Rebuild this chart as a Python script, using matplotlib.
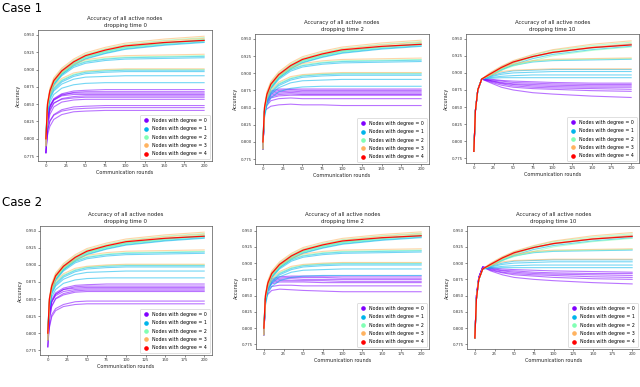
import matplotlib
matplotlib.use("Agg")
import matplotlib.pyplot as plt
from matplotlib.lines import Line2D

# ---------------- data ----------------
rounds = [0, 2, 5, 10, 20, 35, 50, 75, 100, 150, 200]
degrees = [0, 1, 2, 3, 4]
legend_labels = ["Nodes with degree = %d" % d for d in degrees]
panel_titles = ["Accuracy of all active nodes\ndropping time 0",
                "Accuracy of all active nodes\ndropping time 2",
                "Accuracy of all active nodes\ndropping time 10"]
case_labels = ["Case 1", "Case 2"]
yticks = [0.775, 0.800, 0.825, 0.850, 0.875, 0.900, 0.925, 0.950]
xticks = [0, 25, 50, 75, 100, 125, 150, 175, 200]

# connected nodes, dropping time 0 / 2
deg1_early = [
    [0.79, 0.846, 0.867, 0.882, 0.896, 0.909, 0.918, 0.926, 0.932, 0.938, 0.942],
    [0.80, 0.843, 0.864, 0.879, 0.893, 0.906, 0.915, 0.923, 0.929, 0.935, 0.939],
    [0.79, 0.844, 0.865, 0.880, 0.894, 0.907, 0.916, 0.924, 0.930, 0.936, 0.940],
    [0.80, 0.845, 0.865, 0.879, 0.893, 0.905, 0.911, 0.915, 0.917, 0.918, 0.919],
    [0.81, 0.842, 0.862, 0.877, 0.891, 0.903, 0.909, 0.913, 0.915, 0.916, 0.917],
    [0.80, 0.842, 0.861, 0.873, 0.884, 0.892, 0.896, 0.898, 0.899, 0.899, 0.899],
    [0.80, 0.840, 0.859, 0.871, 0.882, 0.890, 0.894, 0.896, 0.897, 0.897, 0.897],
    [0.80, 0.838, 0.857, 0.869, 0.879, 0.886, 0.889, 0.890, 0.891, 0.891, 0.891],
    [0.80, 0.835, 0.853, 0.864, 0.873, 0.878, 0.880, 0.881, 0.881, 0.881, 0.881],
]
deg2_early = [
    [0.79, 0.850, 0.871, 0.886, 0.900, 0.913, 0.922, 0.930, 0.936, 0.942, 0.946],
    [0.80, 0.848, 0.868, 0.883, 0.897, 0.910, 0.919, 0.927, 0.933, 0.939, 0.943],
    [0.81, 0.845, 0.866, 0.881, 0.895, 0.908, 0.917, 0.925, 0.931, 0.937, 0.941],
    [0.80, 0.847, 0.867, 0.882, 0.896, 0.909, 0.918, 0.926, 0.932, 0.938, 0.944],
    [0.80, 0.846, 0.866, 0.880, 0.894, 0.906, 0.912, 0.916, 0.918, 0.919, 0.920],
    [0.80, 0.843, 0.862, 0.874, 0.885, 0.893, 0.897, 0.899, 0.900, 0.900, 0.900],
]
deg3_early = [
    [0.80, 0.852, 0.873, 0.888, 0.902, 0.915, 0.924, 0.932, 0.938, 0.944, 0.948],
    [0.79, 0.849, 0.870, 0.885, 0.899, 0.912, 0.921, 0.929, 0.935, 0.941, 0.945],
    [0.79, 0.848, 0.868, 0.882, 0.896, 0.908, 0.914, 0.918, 0.920, 0.921, 0.922],
    [0.79, 0.845, 0.864, 0.876, 0.887, 0.895, 0.898, 0.900, 0.901, 0.901, 0.901],
]
deg4_early = [
    [0.80, 0.850, 0.869, 0.884, 0.898, 0.911, 0.920, 0.928, 0.934, 0.939, 0.942],
]

# connected nodes, dropping time 10
deg1_late = [
    [0.785, 0.845, 0.875, 0.891, 0.897, 0.907, 0.915, 0.924, 0.930, 0.937, 0.942],
    [0.785, 0.845, 0.875, 0.891, 0.895, 0.904, 0.912, 0.921, 0.927, 0.934, 0.939],
    [0.785, 0.845, 0.875, 0.891, 0.896, 0.905, 0.911, 0.916, 0.918, 0.919, 0.920],
    [0.785, 0.845, 0.875, 0.891, 0.895, 0.900, 0.903, 0.904, 0.905, 0.905, 0.905],
    [0.785, 0.845, 0.875, 0.891, 0.894, 0.898, 0.900, 0.901, 0.902, 0.902, 0.902],
    [0.785, 0.845, 0.875, 0.891, 0.893, 0.895, 0.896, 0.897, 0.897, 0.897, 0.897],
    [0.785, 0.845, 0.875, 0.891, 0.892, 0.893, 0.893, 0.893, 0.893, 0.893, 0.893],
]
deg2_late = [
    [0.785, 0.845, 0.875, 0.891, 0.899, 0.909, 0.917, 0.926, 0.933, 0.940, 0.945],
    [0.785, 0.845, 0.875, 0.891, 0.897, 0.906, 0.914, 0.923, 0.929, 0.936, 0.941],
    [0.785, 0.845, 0.875, 0.891, 0.896, 0.904, 0.910, 0.918, 0.925, 0.933, 0.938],
    [0.785, 0.845, 0.875, 0.891, 0.896, 0.906, 0.912, 0.917, 0.919, 0.920, 0.921],
]
deg3_late = [
    [0.785, 0.845, 0.875, 0.891, 0.900, 0.910, 0.918, 0.927, 0.934, 0.942, 0.947],
    [0.785, 0.845, 0.875, 0.891, 0.898, 0.907, 0.915, 0.924, 0.931, 0.938, 0.943],
    [0.785, 0.845, 0.875, 0.891, 0.897, 0.907, 0.913, 0.918, 0.920, 0.921, 0.922],
    [0.785, 0.845, 0.875, 0.891, 0.896, 0.902, 0.904, 0.905, 0.906, 0.906, 0.906],
]
deg4_late = [
    [0.785, 0.845, 0.875, 0.891, 0.898, 0.908, 0.916, 0.924, 0.930, 0.937, 0.941],
]

# isolated nodes (degree 0), one list per panel
c1t0_deg0 = [
    [0.79, 0.830, 0.848, 0.858, 0.865, 0.869, 0.870, 0.871, 0.871, 0.871, 0.871],
    [0.78, 0.825, 0.845, 0.856, 0.863, 0.867, 0.868, 0.868, 0.868, 0.868, 0.868],
    [0.79, 0.828, 0.846, 0.857, 0.864, 0.866, 0.866, 0.866, 0.866, 0.866, 0.866],
    [0.80, 0.830, 0.847, 0.856, 0.862, 0.864, 0.864, 0.864, 0.864, 0.864, 0.864],
    [0.78, 0.820, 0.840, 0.851, 0.858, 0.861, 0.862, 0.862, 0.862, 0.862, 0.862],
    [0.79, 0.822, 0.842, 0.852, 0.857, 0.859, 0.860, 0.860, 0.860, 0.860, 0.860],
    [0.78, 0.815, 0.835, 0.846, 0.853, 0.856, 0.857, 0.857, 0.857, 0.857, 0.857],
    [0.78, 0.810, 0.826, 0.835, 0.842, 0.846, 0.847, 0.848, 0.848, 0.848, 0.848],
    [0.79, 0.812, 0.825, 0.834, 0.840, 0.843, 0.844, 0.845, 0.845, 0.845, 0.845],
    [0.78, 0.805, 0.818, 0.828, 0.835, 0.839, 0.840, 0.841, 0.841, 0.841, 0.841],
]
c1t2_deg0 = [
    [0.79, 0.845, 0.866, 0.874, 0.877, 0.877, 0.877, 0.877, 0.877, 0.877, 0.877],
    [0.79, 0.845, 0.864, 0.872, 0.875, 0.876, 0.875, 0.875, 0.875, 0.875, 0.875],
    [0.79, 0.845, 0.862, 0.870, 0.873, 0.874, 0.873, 0.873, 0.873, 0.873, 0.873],
    [0.79, 0.845, 0.860, 0.868, 0.871, 0.872, 0.871, 0.871, 0.871, 0.871, 0.871],
    [0.79, 0.845, 0.858, 0.866, 0.869, 0.870, 0.869, 0.869, 0.869, 0.869, 0.869],
    [0.79, 0.845, 0.856, 0.864, 0.867, 0.868, 0.868, 0.868, 0.868, 0.868, 0.868],
    [0.79, 0.845, 0.853, 0.860, 0.863, 0.864, 0.863, 0.863, 0.863, 0.863, 0.863],
    [0.79, 0.845, 0.848, 0.852, 0.854, 0.855, 0.854, 0.854, 0.853, 0.853, 0.853],
]
c1t10_deg0 = [
    [0.785, 0.845, 0.875, 0.891, 0.891, 0.889, 0.888, 0.887, 0.886, 0.885, 0.885],
    [0.785, 0.845, 0.875, 0.891, 0.890, 0.888, 0.886, 0.885, 0.884, 0.883, 0.883],
    [0.785, 0.845, 0.875, 0.891, 0.889, 0.886, 0.884, 0.883, 0.882, 0.881, 0.881],
    [0.785, 0.845, 0.875, 0.891, 0.889, 0.885, 0.883, 0.881, 0.880, 0.879, 0.879],
    [0.785, 0.845, 0.875, 0.891, 0.888, 0.884, 0.881, 0.879, 0.878, 0.877, 0.876],
    [0.785, 0.845, 0.875, 0.891, 0.887, 0.882, 0.879, 0.877, 0.876, 0.874, 0.873],
    [0.785, 0.845, 0.875, 0.891, 0.886, 0.879, 0.875, 0.871, 0.869, 0.866, 0.864],
]
c2t0_deg0 = [
    [0.79, 0.830, 0.849, 0.859, 0.866, 0.870, 0.871, 0.872, 0.872, 0.872, 0.872],
    [0.78, 0.826, 0.846, 0.857, 0.864, 0.868, 0.869, 0.869, 0.869, 0.869, 0.869],
    [0.79, 0.828, 0.846, 0.857, 0.864, 0.866, 0.867, 0.867, 0.867, 0.867, 0.867],
    [0.80, 0.829, 0.846, 0.855, 0.861, 0.864, 0.865, 0.865, 0.865, 0.865, 0.865],
    [0.78, 0.820, 0.840, 0.851, 0.858, 0.862, 0.863, 0.863, 0.863, 0.863, 0.863],
    [0.79, 0.820, 0.839, 0.850, 0.856, 0.860, 0.861, 0.861, 0.861, 0.861, 0.861],
    [0.78, 0.810, 0.827, 0.836, 0.842, 0.846, 0.847, 0.847, 0.847, 0.847, 0.847],
    [0.79, 0.808, 0.824, 0.833, 0.839, 0.842, 0.843, 0.843, 0.843, 0.843, 0.843],
]
c2t2_deg0 = [
    [0.79, 0.845, 0.868, 0.876, 0.879, 0.880, 0.880, 0.880, 0.880, 0.880, 0.880],
    [0.79, 0.845, 0.866, 0.874, 0.877, 0.878, 0.878, 0.878, 0.877, 0.877, 0.877],
    [0.79, 0.845, 0.864, 0.872, 0.875, 0.876, 0.875, 0.875, 0.875, 0.875, 0.875],
    [0.79, 0.845, 0.862, 0.870, 0.873, 0.873, 0.873, 0.873, 0.872, 0.872, 0.872],
    [0.79, 0.845, 0.860, 0.868, 0.871, 0.871, 0.871, 0.870, 0.870, 0.870, 0.870],
    [0.79, 0.845, 0.857, 0.864, 0.866, 0.866, 0.865, 0.865, 0.865, 0.865, 0.865],
    [0.79, 0.845, 0.852, 0.858, 0.860, 0.859, 0.858, 0.857, 0.856, 0.856, 0.856],
]
c2t10_deg0 = [
    [0.785, 0.850, 0.878, 0.894, 0.893, 0.891, 0.890, 0.889, 0.888, 0.887, 0.886],
    [0.785, 0.850, 0.878, 0.894, 0.892, 0.889, 0.888, 0.886, 0.885, 0.884, 0.884],
    [0.785, 0.850, 0.878, 0.894, 0.891, 0.888, 0.886, 0.884, 0.883, 0.882, 0.881],
    [0.785, 0.850, 0.878, 0.894, 0.890, 0.886, 0.884, 0.882, 0.881, 0.879, 0.878],
    [0.785, 0.850, 0.878, 0.894, 0.889, 0.885, 0.882, 0.880, 0.878, 0.876, 0.875],
    [0.785, 0.850, 0.878, 0.894, 0.888, 0.882, 0.878, 0.875, 0.873, 0.870, 0.868],
]

# ---------------- layout ----------------
W, H = 640, 387
fig = plt.figure(figsize=(W / 100, H / 100), dpi=100)
colors = [plt.cm.rainbow(v) for v in (0.0, 0.25, 0.5, 0.75, 1.0)]

# axes boxes in pixels: left, top, right, bottom
boxes = [
    (38, 30, 212, 161), (255, 34, 429, 164), (466, 34, 639, 163),
    (40, 226, 212, 355), (256, 226, 429, 349), (467, 226, 640, 349),
]
panels = [
    (c1t0_deg0, "early"), (c1t2_deg0, "early"), (c1t10_deg0, "late"),
    (c2t0_deg0, "early"), (c2t2_deg0, "early"), (c2t10_deg0, "late"),
]
upper = {
    "early": [deg1_early, deg2_early, deg3_early, deg4_early],
    "late": [deg1_late, deg2_late, deg3_late, deg4_late],
}

for i, ((l, t, r, b), (deg0, key)) in enumerate(zip(boxes, panels)):
    ax = fig.add_axes([l / W, 1 - b / H, (r - l) / W, (b - t) / H])
    groups = [deg0] + upper[key]
    for d, lines in enumerate(groups):
        for vals in lines:
            if d == 4:
                ax.plot(rounds, vals, color=colors[d], lw=0.9, alpha=0.95, zorder=4)
            else:
                ax.plot(rounds, vals, color=colors[d], lw=0.8, alpha=0.55, zorder=2 + d * 0.1)
    ax.set_xlim(-10, 210)
    ax.set_ylim(0.768, 0.957)
    ax.set_xticks(xticks)
    ax.set_yticks(yticks)
    ax.set_yticklabels(["%.3f" % v for v in yticks])
    ax.tick_params(labelsize=2.8, length=1.5, width=0.4, pad=1, colors="#333333")
    for s in ax.spines.values():
        s.set_linewidth(0.5)
        s.set_color("#555555")
    ax.set_title(panel_titles[i % 3], fontsize=3.9, pad=2, linespacing=1.5, color="#222222")
    ax.set_xlabel("Communication rounds", fontsize=3.5, labelpad=1, color="#222222")
    ax.set_ylabel("Accuracy", fontsize=3.5, labelpad=1.5, color="#222222")
    handles = [Line2D([], [], ls="", marker="o", markersize=2.3, color=colors[d]) for d in degrees]
    leg = ax.legend(handles, legend_labels, loc="lower right", fontsize=3.4,
                    frameon=True, borderpad=0.6, labelspacing=0.7, handletextpad=0.8,
                    borderaxespad=0.4, handlelength=1.2)
    leg.get_frame().set_linewidth(0.4)
    leg.get_frame().set_edgecolor("#bbbbbb")

fig.text(2 / W, 1 - 8 / H, case_labels[0], fontsize=8.5, va="center", ha="left")
fig.text(2 / W, 1 - 203 / H, case_labels[1], fontsize=8.5, va="center", ha="left")

fig.savefig("out.png", dpi=100)
